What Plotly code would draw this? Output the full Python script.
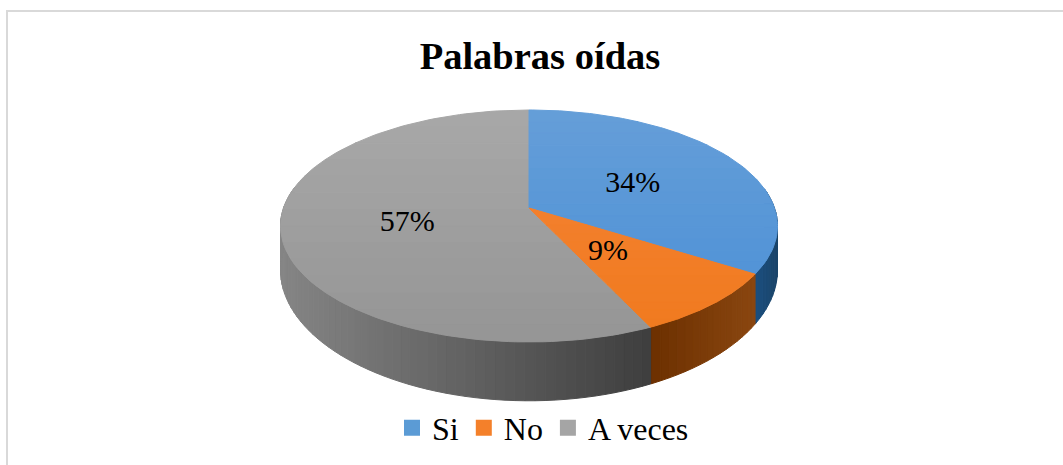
import numpy as np
import plotly.graph_objects as go

# chart data
title = "Palabras oídas"
categories = ["Si", "No", "A veces"]
percent = [34, 9, 57]

# look of each slice: top colour far/near, side colour left/right
top_far = ["#659ed8", "#f58336", "#a8a8a8"]
top_near = ["#4a8fd6", "#f07a1e", "#959595"]
side_left = ["#1b4f80", "#6c3000", "#858585"]
side_right = ["#1b4468", "#8a4610", "#3e3e3e"]
legend_color = ["#5b9bd5", "#f4802a", "#a5a5a5"]
label_radius = [0.5, 0.46, 0.5]

# pie geometry in page pixels, with a perspective tilt
cx, cy = 529, 208
rx, ry, tilt = 245.5, 113.2, -0.155
depth = 42

font = "Liberation Serif, Times New Roman, serif"


def project(theta, r=1.0):
    u = r * np.sin(theta)
    v = -r * np.cos(theta)
    s = 1 / (1 + tilt * v)
    return cx + rx * u * s, cy + ry * v * s, s


def lerp_color(c1, c2, t):
    a = [int(c1[i:i + 2], 16) for i in (1, 3, 5)]
    b = [int(c2[i:i + 2], 16) for i in (1, 3, 5)]
    return "rgb(%d,%d,%d)" % tuple(round(p + (q - p) * t) for p, q in zip(a, b))


def clip_band(xs, ys, y0, y1):
    # clip a polygon to a horizontal band
    pts = list(zip(xs, ys))
    for lim, sign in ((y0, 1), (y1, -1)):
        out = []
        for i in range(len(pts)):
            p, q = pts[i - 1], pts[i]
            dp, dq = sign * (p[1] - lim), sign * (q[1] - lim)
            if dp * dq < 0:
                t = dp / (dp - dq)
                out.append((p[0] + (q[0] - p[0]) * t, p[1] + (q[1] - p[1]) * t))
            if dq >= 0:
                out.append(q)
        pts = out
        if not pts:
            return [], []
    return [p[0] for p in pts], [p[1] for p in pts]


def add_poly(fig, xs, ys, color):
    fig.add_trace(go.Scatter(x=list(xs) + [xs[0]], y=list(ys) + [ys[0]], mode="lines", fill="toself",
                             fillcolor=color, line=dict(color=color, width=1),
                             hoverinfo="skip", showlegend=False))


fig = go.Figure()

edges = np.cumsum([0] + percent) / sum(percent) * 2 * np.pi

# side wall
for i in range(len(percent)):
    steps = np.arange(edges[i], edges[i + 1], np.radians(2))
    steps = np.append(steps, edges[i + 1])
    front = [t for t in steps if -np.cos(t) > -0.2]
    if not front:
        continue
    xa, _, _ = project(np.array(front))
    left, right = xa.min(), xa.max()
    for t0, t1 in zip(front[:-1], front[1:]):
        x0, y0, s0 = project(t0)
        x1, y1, s1 = project(t1)
        mix = ((x0 + x1) / 2 - left) / max(right - left, 1)
        add_poly(fig, [x0, x1, x1, x0], [y0, y1, y1 + depth * s1 ** 2, y0 + depth * s0 ** 2],
                 lerp_color(side_left[i], side_right[i], mix))

# top face, gray first because its outline is concave
for i in (2, 0, 1):
    arc = np.linspace(edges[i], edges[i + 1], 120)
    ax, ay, _ = project(arc)
    xs = [cx] + list(ax)
    ys = [cy] + list(ay)
    bands = np.linspace(min(ys), max(ys), 15)
    for b0, b1 in zip(bands[:-1], bands[1:]):
        px, py = clip_band(xs, ys, b0, b1)
        if px:
            mix = ((b0 + b1) / 2 - 110) / 232
            add_poly(fig, px, py, lerp_color(top_far[i], top_near[i], mix))

# percent labels
mids = (edges[:-1] + edges[1:]) / 2
lx, ly, _ = project(mids, np.array(label_radius))
fig.add_trace(go.Scatter(x=lx, y=ly + 3, mode="text", text=["%d%%" % p for p in percent],
                         textposition="middle center",
                         textfont=dict(family=font, size=30, color="#000000"),
                         hoverinfo="skip", showlegend=False))

# legend entries
for name, color in zip(categories, legend_color):
    fig.add_trace(go.Scatter(x=[None], y=[None], mode="markers", name=name,
                             marker=dict(symbol="square", size=16, color=color)))

fig.update_layout(
    width=1063, height=465,
    margin=dict(l=0, r=0, t=0, b=0),
    paper_bgcolor="#ffffff", plot_bgcolor="#ffffff",
    title=dict(text="<b>%s</b>" % title, x=540 / 1063, xanchor="center", y=1 - 56 / 465, yanchor="middle",
               font=dict(family=font, size=38.5, color="#000000")),
    xaxis=dict(range=[0, 1063], visible=False),
    yaxis=dict(range=[465, 0], visible=False),
    legend=dict(orientation="h", x=543 / 1063, xanchor="center", y=1 - 428 / 465, yanchor="middle",
                font=dict(family=font, size=32, color="#000000"), itemsizing="trace",
                bgcolor="rgba(0,0,0,0)"),
    shapes=[
        dict(type="line", xref="paper", yref="paper", x0=7 / 1063, x1=7 / 1063, y0=0, y1=1 - 11 / 465,
             line=dict(color="#d9d9d9", width=2)),
        dict(type="line", xref="paper", yref="paper", x0=6 / 1063, x1=1, y0=1 - 11 / 465, y1=1 - 11 / 465,
             line=dict(color="#d9d9d9", width=2)),
    ],
)

# the page's default body margin would push the chart 8px in
fig.write_html("out.html", config=dict(displayModeBar=False),
               post_script="document.body.style.margin='0';document.body.style.overflow='hidden';")
